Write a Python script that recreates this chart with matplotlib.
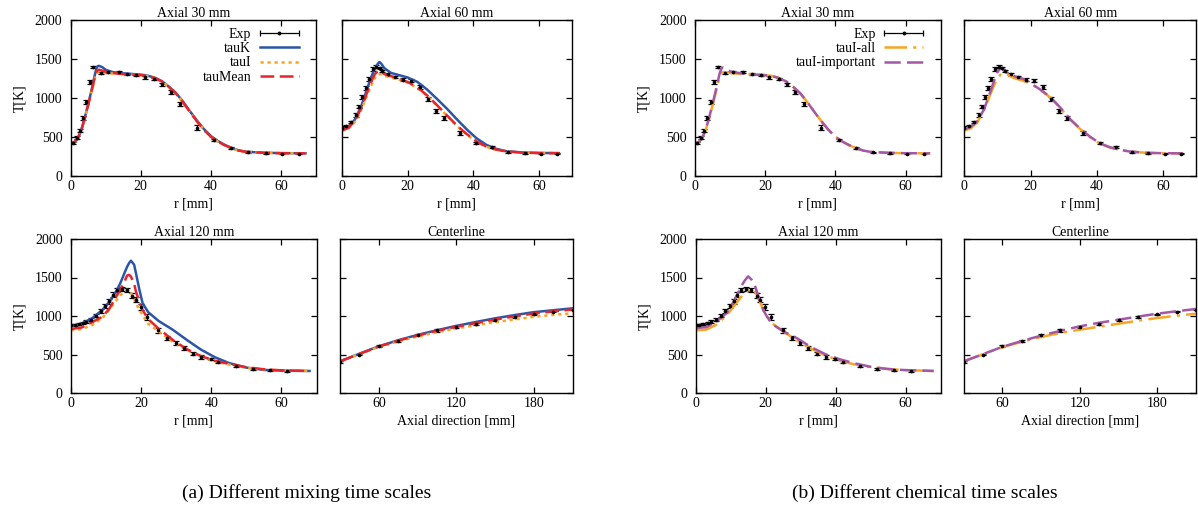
import matplotlib
matplotlib.use('Agg')
import matplotlib.pyplot as plt
from matplotlib.lines import Line2D
from matplotlib.legend_handler import HandlerLine2D, HandlerTuple

plt.rcParams['font.family'] = ['Liberation Serif', 'DejaVu Serif']
plt.rcParams['font.size'] = 10

# ---- experiment (shared by both groups) ----
exp30_r = [0.6, 1.8, 2.7, 3.4, 4.5, 5.4, 6.5, 8.6, 10.7, 13.8, 16.2, 18.7, 21.2, 23.8,
           26.1, 28.6, 31.1, 35.9, 41.0, 45.8, 50.6, 55.6, 60.4, 65.2]
exp30_T = [420, 490, 580, 737, 942, 1208, 1400, 1315, 1328, 1328, 1306, 1293, 1263, 1238,
           1173, 1075, 917, 619, 458, 360, 300, 287, 283, 283]
exp30_e = [15, 20, 20, 25, 25, 25, 15, 12, 12, 12, 12, 12, 15, 15,
           20, 25, 28, 28, 18, 12, 10, 8, 8, 8]

exp60_r = [0, 1.3, 2.8, 4.3, 5.3, 6.3, 7.3, 8.2, 9.4, 10.5, 11.5, 12.3, 14.0, 16.1,
           18.7, 21.2, 23.7, 26.2, 28.6, 31.1, 35.9, 40.9, 45.8, 50.6, 55.6, 60.5, 65.4]
exp60_T = [617, 638, 690, 780, 887, 1015, 1122, 1242, 1366, 1400, 1385, 1345, 1300, 1265,
           1235, 1218, 1140, 985, 830, 740, 550, 418, 370, 302, 288, 284, 283]
exp60_e = [15, 15, 18, 20, 22, 25, 25, 25, 25, 20, 15, 15, 15, 15,
           15, 18, 22, 28, 30, 30, 25, 15, 12, 10, 8, 8, 8]

exp120_r = [0, 1.05, 2.2, 3.4, 4.4, 5.8, 7.1, 8.5, 9.7, 10.8, 11.9, 13.0, 14.4, 15.9, 17.5,
            18.5, 19.9, 21.6, 24.8, 27.4, 29.8, 32.2, 34.7, 37.1, 39.8, 42.0, 47.0, 51.8, 56.7, 61.5]
exp120_T = [887, 887, 896, 909, 926, 952, 1004, 1061, 1126, 1190, 1277, 1342, 1351, 1342, 1264,
            1212, 1117, 987, 814, 714, 649, 584, 511, 468, 446, 407, 346, 312, 294, 286]
exp120_e = [15, 15, 15, 18, 18, 20, 22, 25, 28, 30, 30, 28, 25, 25, 30,
            35, 35, 35, 30, 28, 28, 25, 22, 20, 15, 15, 12, 10, 8, 8]

expcl_x = [30, 45, 60, 75, 90, 105, 120, 135, 150, 165, 180, 195, 210]
expcl_T = [400, 500, 606, 678, 752, 812, 857, 898, 944, 985, 1022, 1056, 1082]
expcl_e = [12, 12, 12, 12, 15, 15, 15, 12, 12, 12, 10, 10, 10]

# ---- simulations ----
r30 = [0, 1, 2, 3, 4, 5, 6, 7, 7.5, 8, 9, 10, 12, 15, 18, 20, 22, 24, 26, 28, 30,
       32, 34, 36, 38, 40, 42, 44, 46, 48, 50, 55, 60, 67]
t30_tauK = [415, 430, 480, 585, 740, 920, 1110, 1320, 1400, 1412, 1395, 1360, 1330, 1315, 1305, 1298,
            1285, 1258, 1215, 1145, 1065, 955, 830, 710, 600, 510, 445, 395, 355, 325, 308, 295, 290, 288]
t30_tauI = [415, 428, 475, 578, 728, 905, 1085, 1270, 1320, 1330, 1328, 1320, 1312, 1305, 1298, 1292,
            1280, 1255, 1212, 1140, 1058, 945, 820, 700, 590, 500, 438, 390, 352, 322, 306, 294, 289, 287]
t30_tauMean = [415, 430, 478, 582, 735, 912, 1095, 1290, 1350, 1362, 1350, 1335, 1318, 1305, 1298, 1292,
               1280, 1255, 1212, 1140, 1058, 945, 820, 700, 590, 500, 438, 390, 352, 322, 306, 294, 289, 287]
t30_imp = [415, 430, 480, 585, 740, 920, 1110, 1310, 1375, 1390, 1370, 1340, 1322, 1306, 1296, 1290,
           1278, 1253, 1210, 1140, 1058, 945, 820, 700, 590, 500, 438, 390, 352, 322, 306, 294, 289, 287]

r60 = [0, 2, 4, 6, 8, 9, 10, 11, 11.5, 12, 13, 15, 18, 20, 23, 26, 29, 32, 35, 38, 41,
       44, 47, 50, 55, 60, 66]
t60_tauK = [590, 625, 720, 900, 1150, 1270, 1370, 1440, 1460, 1440, 1380, 1320, 1285, 1262, 1205, 1105,
            985, 860, 725, 595, 480, 395, 345, 315, 298, 292, 290]
t60_tauI = [575, 605, 690, 850, 1060, 1160, 1250, 1300, 1305, 1300, 1285, 1262, 1225, 1195, 1130, 1025,
            900, 770, 640, 530, 435, 370, 333, 310, 296, 291, 289]
t60_tauMean = [580, 612, 705, 875, 1100, 1210, 1300, 1345, 1340, 1330, 1305, 1280, 1235, 1205, 1135, 1030,
               905, 775, 645, 535, 440, 373, 335, 312, 297, 291, 289]
t60_all = [580, 610, 690, 850, 1060, 1160, 1250, 1300, 1315, 1310, 1300, 1255, 1215, 1185, 1100, 1005,
           870, 720, 600, 495, 412, 362, 332, 310, 294, 289, 287]
t60_imp = [595, 630, 705, 855, 1095, 1220, 1330, 1390, 1380, 1350, 1320, 1280, 1240, 1190, 1105, 1010,
           875, 725, 605, 500, 415, 365, 333, 310, 294, 289, 287]

r120 = [0, 3, 6, 9, 11, 12, 13, 14, 15, 16, 16.6, 17.1, 18, 18.5, 19.5, 20.4, 22, 25, 29, 33, 37,
        41, 45, 50, 55, 60, 68]
t120_tauK = [866, 900, 970, 1080, 1190, 1255, 1330, 1420, 1530, 1640, 1690, 1718, 1667, 1560, 1342, 1169,
             1050, 935, 822, 690, 565, 465, 390, 330, 300, 290, 286]
t120_tauI = [814, 830, 880, 975, 1085, 1150, 1210, 1265, 1310, 1340, 1335, 1300, 1220, 1170, 1080, 1010,
             900, 800, 665, 560, 470, 412, 370, 328, 305, 293, 286]
t120_tauMean = [831, 850, 920, 990, 1100, 1180, 1260, 1340, 1420, 1525, 1535, 1510, 1420, 1320, 1180, 1080,
                960, 835, 690, 570, 480, 420, 378, 335, 308, 294, 286]
t120_all = [814, 823, 890, 1015, 1135, 1190, 1250, 1300, 1335, 1350, 1335, 1310, 1220, 1170, 1055, 990,
            900, 800, 680, 575, 490, 420, 375, 335, 312, 297, 286]
t120_imp = [844, 855, 930, 1045, 1200, 1290, 1385, 1460, 1515, 1470, 1430, 1370, 1240, 1170, 1060, 990,
            890, 801, 710, 595, 505, 440, 390, 340, 311, 297, 286]

xcl = [30, 45, 60, 75, 90, 105, 120, 135, 150, 165, 180, 195, 210]
cl_tauK = [411, 510, 606, 685, 755, 815, 872, 922, 970, 1012, 1050, 1075, 1100]
cl_tauMean = [411, 508, 603, 680, 748, 808, 860, 908, 953, 995, 1032, 1060, 1085]
cl_tauI = [411, 505, 598, 670, 735, 790, 838, 880, 920, 955, 990, 1015, 1035]
cl_imp = [411, 505, 600, 675, 745, 808, 866, 912, 952, 992, 1030, 1062, 1091]
cl_all = [411, 503, 595, 665, 728, 780, 822, 862, 900, 938, 974, 1003, 1030]

BLUE = '#2b55a8'
RED = '#e8232b'
ORANGE = '#f8a522'
PURPLE = '#a457a6'

sty = {
    'tauK': dict(color=BLUE, lw=1.8, ls='-'),
    'tauI': dict(color=ORANGE, lw=1.8, ls=(0, (1.3, 1.5))),
    'tauMean': dict(color=RED, lw=1.8, ls=(0, (5.5, 2.2))),
    'tauI-all': dict(color=ORANGE, lw=1.8, ls=(0, (9, 2.5, 1.2, 2.5))),
    'tauI-important': dict(color=PURPLE, lw=1.8, ls=(0, (6.5, 2.5))),
}

fig = plt.figure(figsize=(11.98, 5.08), dpi=100)
W, H = 1198, 508


def add_ax(l, r, t, b):
    return fig.add_axes([l / W, 1 - b / H, (r - l) / W, (b - t) / H])


def style(ax, xticks, xlim, title, xlabel, ylab):
    ax.set_xlim(*xlim)
    ax.set_ylim(0, 2000)
    ax.set_xticks(xticks)
    ax.set_yticks([0, 500, 1000, 1500, 2000])
    ax.tick_params(direction='in', top=True, right=True, length=4.5, width=0.9,
                   labelsize=10)
    ax.tick_params(axis='y', pad=6)
    ax.tick_params(axis='x', pad=3)
    if ylab:
        ax.set_ylabel('T[K]', fontsize=10, labelpad=6)
    else:
        ax.set_yticklabels([])
    ax.set_title(title, fontsize=10, pad=2)
    ax.set_xlabel(xlabel, fontsize=10, labelpad=3)
    for s in ax.spines.values():
        s.set_linewidth(1.0)


def exp(ax, x, y, e):
    ax.errorbar(x, y, yerr=e, fmt='o', ms=1.6, color='k', ecolor='k', elinewidth=0.9,
                capsize=2.4, capthick=0.9, zorder=2)


def legend(ax, names):
    bar = Line2D([], [], color='k', lw=0.9, marker='|', ms=5, mew=0.9)
    dot = Line2D([], [], color='k', lw=0, marker='o', ms=1.8)
    hs = [(bar, dot)] + [Line2D([], [], **sty[n]) for n in names]
    ax.legend(hs, ['Exp'] + names, loc='upper right', bbox_to_anchor=(0.94, 0.965),
              frameon=False, markerfirst=False, handlelength=2.8, handletextpad=0.6,
              labelspacing=0.08, borderpad=0.2, borderaxespad=0, fontsize=10,
              handler_map={bar: HandlerLine2D(numpoints=2, marker_pad=0),
                           tuple: HandlerTuple(ndivide=1, pad=0)})


# ---------------- (a) ----------------
ax = add_ax(70.7, 316, 20, 175.7)
exp(ax, exp30_r, exp30_T, exp30_e)
ax.plot(r30, t30_tauK, **sty['tauK'])
ax.plot(r30, t30_tauI, **sty['tauI'])
ax.plot(r30, t30_tauMean, **sty['tauMean'])
style(ax, [0, 20, 40, 60], (0, 70), 'Axial 30 mm', 'r [mm]', True)
legend(ax, ['tauK', 'tauI', 'tauMean'])

ax = add_ax(341.7, 572, 20, 175.7)
exp(ax, exp60_r, exp60_T, exp60_e)
ax.plot(r60, t60_tauK, **sty['tauK'])
ax.plot(r60, t60_tauI, **sty['tauI'])
ax.plot(r60, t60_tauMean, **sty['tauMean'])
style(ax, [0, 20, 40, 60], (0, 70), 'Axial 60 mm', 'r [mm]', False)

ax = add_ax(71, 316.5, 239, 393)
exp(ax, exp120_r, exp120_T, exp120_e)
ax.plot(r120, t120_tauK, **sty['tauK'])
ax.plot(r120, t120_tauI, **sty['tauI'])
ax.plot(r120, t120_tauMean, **sty['tauMean'])
style(ax, [0, 20, 40, 60], (0, 70), 'Axial 120 mm', 'r [mm]', True)

ax = add_ax(340, 572.7, 239, 393)
exp(ax, expcl_x, expcl_T, expcl_e)
ax.plot(xcl, cl_tauK, **sty['tauK'])
ax.plot(xcl, cl_tauI, **sty['tauI'])
ax.plot(xcl, cl_tauMean, **sty['tauMean'])
style(ax, [60, 120, 180], (30, 210), 'Centerline', 'Axial direction [mm]', False)

# ---------------- (b) ----------------
ax = add_ax(695, 940.7, 20, 175.7)
exp(ax, exp30_r, exp30_T, exp30_e)
ax.plot(r30, t30_tauI, **sty['tauI-all'])
ax.plot(r30, t30_imp, **sty['tauI-important'])
style(ax, [0, 20, 40, 60], (0, 70), 'Axial 30 mm', 'r [mm]', True)
legend(ax, ['tauI-all', 'tauI-important'])

ax = add_ax(964.3, 1196, 20, 175.7)
exp(ax, exp60_r, exp60_T, exp60_e)
ax.plot(r60, t60_all, **sty['tauI-all'])
ax.plot(r60, t60_imp, **sty['tauI-important'])
style(ax, [0, 20, 40, 60], (0, 70), 'Axial 60 mm', 'r [mm]', False)

ax = add_ax(695.7, 940.7, 239, 393)
exp(ax, exp120_r, exp120_T, exp120_e)
ax.plot(r120, t120_all, **sty['tauI-all'])
ax.plot(r120, t120_imp, **sty['tauI-important'])
style(ax, [0, 20, 40, 60], (0, 70), 'Axial 120 mm', 'r [mm]', True)

ax = add_ax(963.7, 1196, 239, 393)
exp(ax, expcl_x, expcl_T, expcl_e)
ax.plot(xcl, cl_all, **sty['tauI-all'])
ax.plot(xcl, cl_imp, **sty['tauI-important'])
style(ax, [60, 120, 180], (30, 210), 'Centerline', 'Axial direction [mm]', False)

fig.text(307 / W, 1 - 493 / H, '(a) Different mixing time scales', ha='center', va='center',
         fontsize=14)
fig.text(925 / W, 1 - 493 / H, '(b) Different chemical time scales', ha='center', va='center',
         fontsize=14)

fig.savefig('out.png', dpi=100)
